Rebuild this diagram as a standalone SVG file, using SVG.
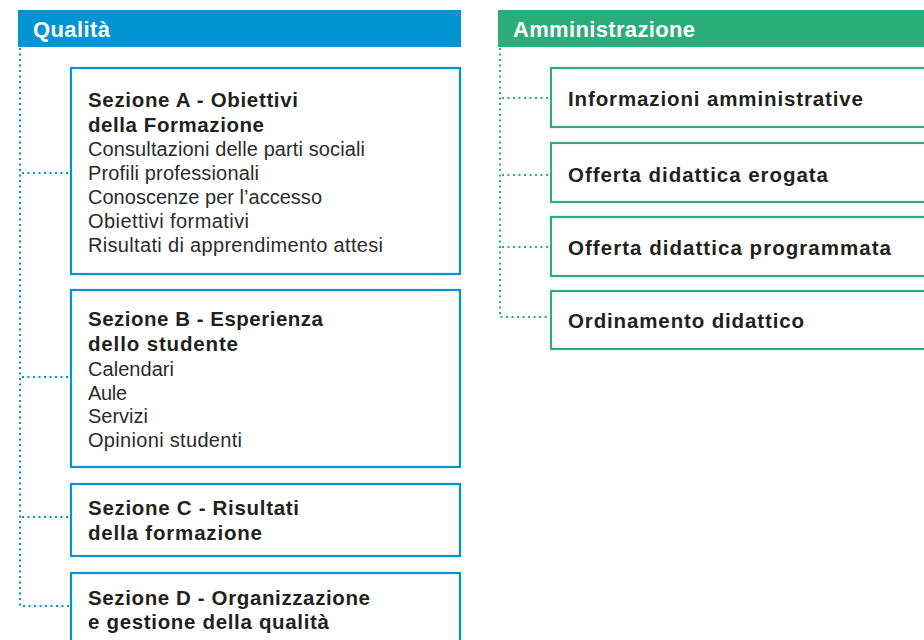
<svg xmlns="http://www.w3.org/2000/svg" width="924" height="640" viewBox="0 0 924 640">
<style>
.hdr{font-family:"Liberation Sans",Arial,sans-serif;font-weight:bold;font-size:22px;fill:#ffffff}
.b{font-family:"Liberation Sans",Arial,sans-serif;font-weight:bold;font-size:20.5px;fill:#231f20}
.r{font-family:"Liberation Sans",Arial,sans-serif;font-size:20px;fill:#2b2b2b}
.boxq{fill:#ffffff;stroke:#0094d3;stroke-width:2.2}
.boxa{fill:#ffffff;stroke:#2aac7b;stroke-width:2.2}
.dq{fill:none;stroke:#0094d3;stroke-width:2;stroke-dasharray:2 3.5}
.da{fill:none;stroke:#2aac7b;stroke-width:2;stroke-dasharray:2 3.5}
</style>
<rect width="924" height="640" fill="#ffffff"/>
<g id="connectors">
<path class="dq" d="M20 48 V606 H70"/>
<path class="dq" d="M22 173 H70"/>
<path class="dq" d="M22 377 H70"/>
<path class="dq" d="M22 517 H70"/>
<path class="da" d="M500 48 V317 H550"/>
<path class="da" d="M502 98 H550"/>
<path class="da" d="M502 175 H550"/>
<path class="da" d="M502 247 H550"/>
</g>
<g id="qualita">
<rect x="18" y="10" width="443" height="37" fill="#0094d3"/>
<text class="hdr" x="33" y="37" textLength="77" lengthAdjust="spacing">Qualità</text>
</g>
<g id="amministrazione">
<rect x="498" y="10" width="430" height="37" fill="#2aac7b"/>
<text class="hdr" x="513" y="37" textLength="182" lengthAdjust="spacing">Amministrazione</text>
</g>
<g id="sezione-a">
<rect class="boxq" x="71" y="68" width="389" height="206"/>
<text class="b" x="88" y="107" textLength="210" lengthAdjust="spacing">Sezione A - Obiettivi</text>
<text class="b" x="88" y="131.5" textLength="176" lengthAdjust="spacing">della Formazione</text>
<text class="r" x="88" y="155.5" textLength="277" lengthAdjust="spacing">Consultazioni delle parti sociali</text>
<text class="r" x="88" y="180" textLength="171" lengthAdjust="spacing">Profili professionali</text>
<text class="r" x="88" y="204" textLength="234" lengthAdjust="spacing">Conoscenze per l’accesso</text>
<text class="r" x="88" y="228" textLength="161" lengthAdjust="spacing">Obiettivi formativi</text>
<text class="r" x="88" y="252" textLength="295" lengthAdjust="spacing">Risultati di apprendimento attesi</text>
</g>
<g id="sezione-b">
<rect class="boxq" x="71" y="290" width="389" height="177"/>
<text class="b" x="88" y="326" textLength="235" lengthAdjust="spacing">Sezione B - Esperienza</text>
<text class="b" x="88" y="351" textLength="150" lengthAdjust="spacing">dello studente</text>
<text class="r" x="88" y="375.5" textLength="86" lengthAdjust="spacing">Calendari</text>
<text class="r" x="88" y="399.5" textLength="39" lengthAdjust="spacing">Aule</text>
<text class="r" x="88" y="423" textLength="60" lengthAdjust="spacing">Servizi</text>
<text class="r" x="88" y="447" textLength="154" lengthAdjust="spacing">Opinioni studenti</text>
</g>
<g id="sezione-c">
<rect class="boxq" x="71" y="484" width="389" height="72"/>
<text class="b" x="88" y="515" textLength="211" lengthAdjust="spacing">Sezione C - Risultati</text>
<text class="b" x="88" y="540" textLength="174" lengthAdjust="spacing">della formazione</text>
</g>
<g id="sezione-d">
<rect class="boxq" x="71" y="573" width="389" height="80"/>
<text class="b" x="88" y="605" textLength="282" lengthAdjust="spacing">Sezione D - Organizzazione</text>
<text class="b" x="88" y="629" textLength="241" lengthAdjust="spacing">e gestione della qualità</text>
</g>
<g id="informazioni">
<rect class="boxa" x="551" y="68" width="390" height="59"/>
<text class="b" x="568" y="106" textLength="295" lengthAdjust="spacing">Informazioni amministrative</text>
</g>
<g id="erogata">
<rect class="boxa" x="551" y="143" width="390" height="59"/>
<text class="b" x="568" y="181.5" textLength="260" lengthAdjust="spacing">Offerta didattica erogata</text>
</g>
<g id="programmata">
<rect class="boxa" x="551" y="217" width="390" height="59"/>
<text class="b" x="568" y="255" textLength="323" lengthAdjust="spacing">Offerta didattica programmata</text>
</g>
<g id="ordinamento">
<rect class="boxa" x="551" y="291" width="390" height="58"/>
<text class="b" x="568" y="328" textLength="236" lengthAdjust="spacing">Ordinamento didattico</text>
</g>
</svg>
